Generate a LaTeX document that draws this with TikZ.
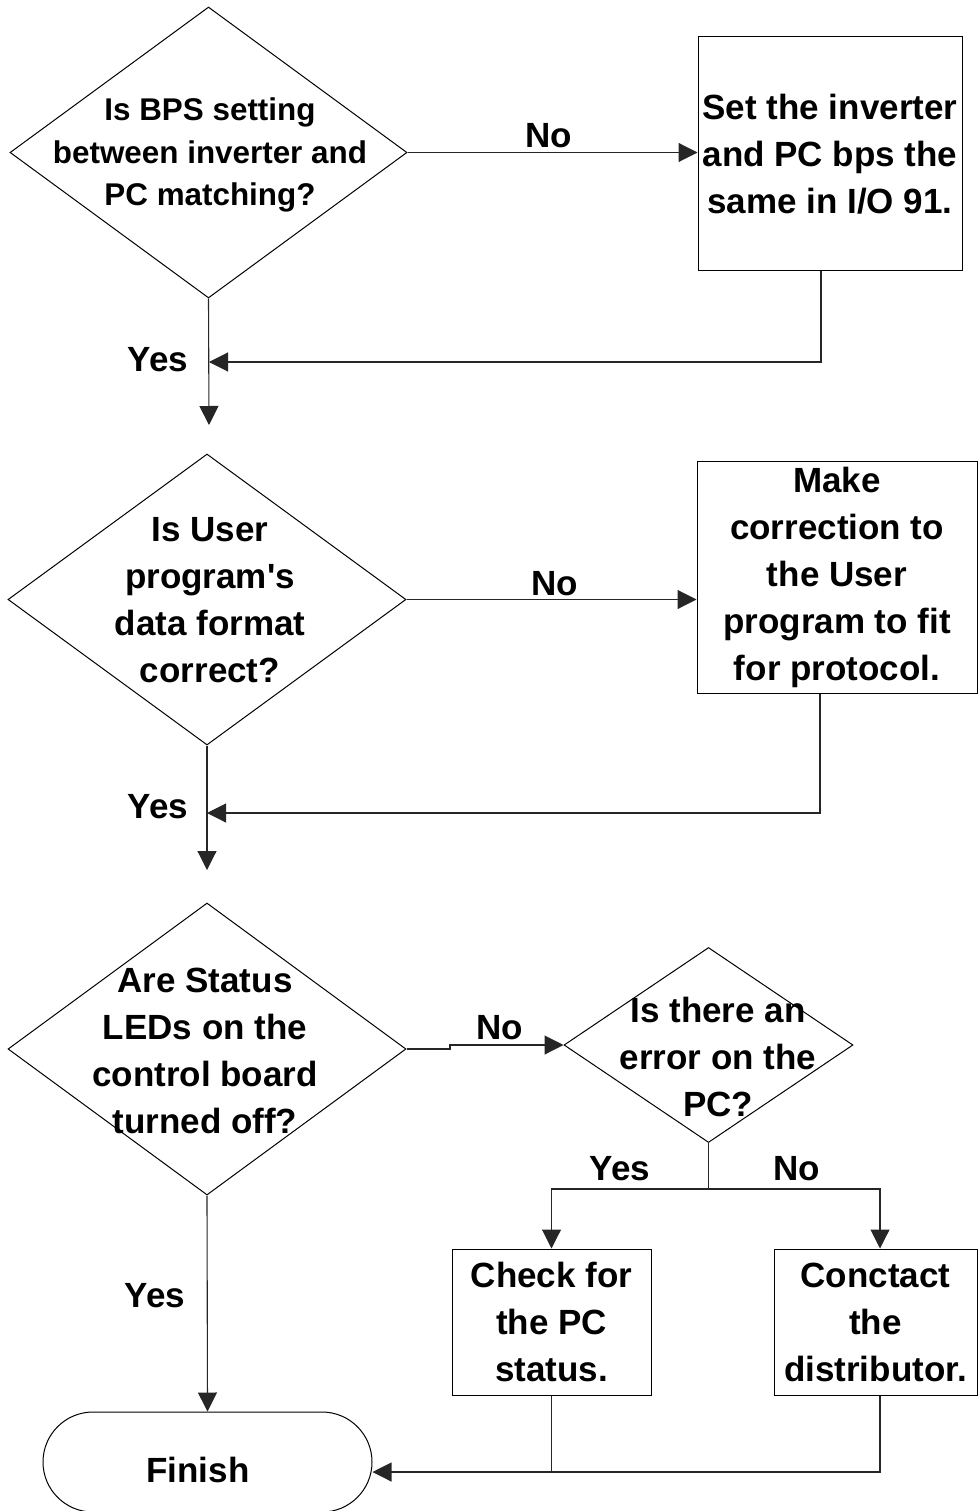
\documentclass[tikz,border=0pt]{standalone}
\usepackage{fontspec}
\setmainfont{Liberation Sans}
\usetikzlibrary{arrows.meta,shapes.geometric,shapes.misc}
\begin{document}
\begin{tikzpicture}[x=1pt,y=-1pt,
  ln/.style={line width=1.1pt, draw=black!85},
  arr/.style={ln,-{Triangle[length=19pt,width=19pt]}},
  dec/.style={diamond, draw=black, line width=1pt, inner sep=0pt},
  box/.style={rectangle, draw=black, line width=1pt, inner sep=0pt, align=center, font=\fontsize{35}{47}\selectfont\bfseries},
  txt/.style={align=center, inner sep=0pt, font=\fontsize{35}{47}\selectfont\bfseries},
  lbl/.style={inner sep=0pt, font=\fontsize{35}{47}\selectfont\bfseries}]
\useasboundingbox (0,0) rectangle (978,1511);

% ---- block 1
\node[dec, minimum width=397pt, minimum height=291pt] (d1) at (208.5,152.5) {};
\node[txt, font=\fontsize{31.4}{42.2}\selectfont\bfseries] (d1t) at (210,155) {Is BPS setting\\between inverter and\\PC matching?};
\node[box, minimum width=264pt, minimum height=234pt] (b1) at (830,154) {Set the inverter\\and PC bps the\\same in I/O 91.};
\coordinate (m1) at (209,362);
\coordinate (e1) at (209,425);
\draw[arr] (d1.east) -- (d1.east -| b1.west);
\draw[arr] ([xshift=-9pt]b1.south) |- (m1);
\draw[arr] (d1.south) -- (e1);
\node[lbl] (n1) at (549,136) {No};
\node[lbl] (y1) at (158,360) {Yes};

% ---- block 2
\node[dec, minimum width=398pt, minimum height=291pt] (d2) at (207,599.5) {};
\node[txt] (d2t) at (210,600) {Is User\\program\textquotesingle s\\data format\\correct?};
\node[box, minimum width=280pt, minimum height=232pt] (b2) at (837,577) {Make\\correction to\\the User\\program to fit\\for protocol.};
\coordinate (m2) at (207,813);
\coordinate (e2) at (207,870);
\draw[arr] (d2.east) -- (d2.east -| b2.west);
\draw[arr] ([xshift=-17pt]b2.south) |- (m2);
\draw[arr] (d2.south) -- (e2);
\node[lbl] (n2) at (554.5,583.5) {No};
\node[lbl] (y2) at (158,806.5) {Yes};

% ---- block 3
\node[dec, minimum width=398pt, minimum height=292pt] (d3) at (207,1049) {};
\node[txt] (d3t) at (205,1051) {Are Status\\LEDs on the\\control board\\turned off?};
\node[dec, minimum width=289pt, minimum height=195pt] (d4) at (708.5,1045) {};
\node[txt] (d4t) at (718,1057) {Is there an\\error on the\\PC?};
\node[box, minimum width=199pt, minimum height=146pt] (b3) at (551.5,1322) {Check for\\the PC\\status.};
\node[box, minimum width=203pt, minimum height=146pt] (b4) at (875.5,1322) {Conctact\\the\\distributor.};
\node[rounded rectangle, draw=black, line width=1pt, minimum width=329pt, minimum height=100pt, inner sep=0pt] (fin) at (207.5,1462) {};
\node[lbl] (fint) at (198,1470) {Finish};

\coordinate (k) at (450,0);
\draw[arr] (d3.east) -- (d3.east -| k) |- (d4.west);
\draw[ln] (d4.south) -- ++(0,46) coordinate (j);
\draw[arr] (j) -| (b3.north);
\draw[arr] (j) -| ([xshift=4.5pt]b4.north);
\draw[arr] (d3.south) -- (fin.north);
\draw[ln] (b3.south) -- ++(0,77);
\draw[arr] ([xshift=4.5pt]b4.south) |- ([yshift=-10pt]fin.east);

\node[lbl] (n3) at (500,1028) {No};
\node[lbl] (y4) at (620,1168.5) {Yes};
\node[lbl] (n4) at (797,1168.5) {No};
\node[lbl] (y3) at (155,1296) {Yes};
\end{tikzpicture}
\end{document}
